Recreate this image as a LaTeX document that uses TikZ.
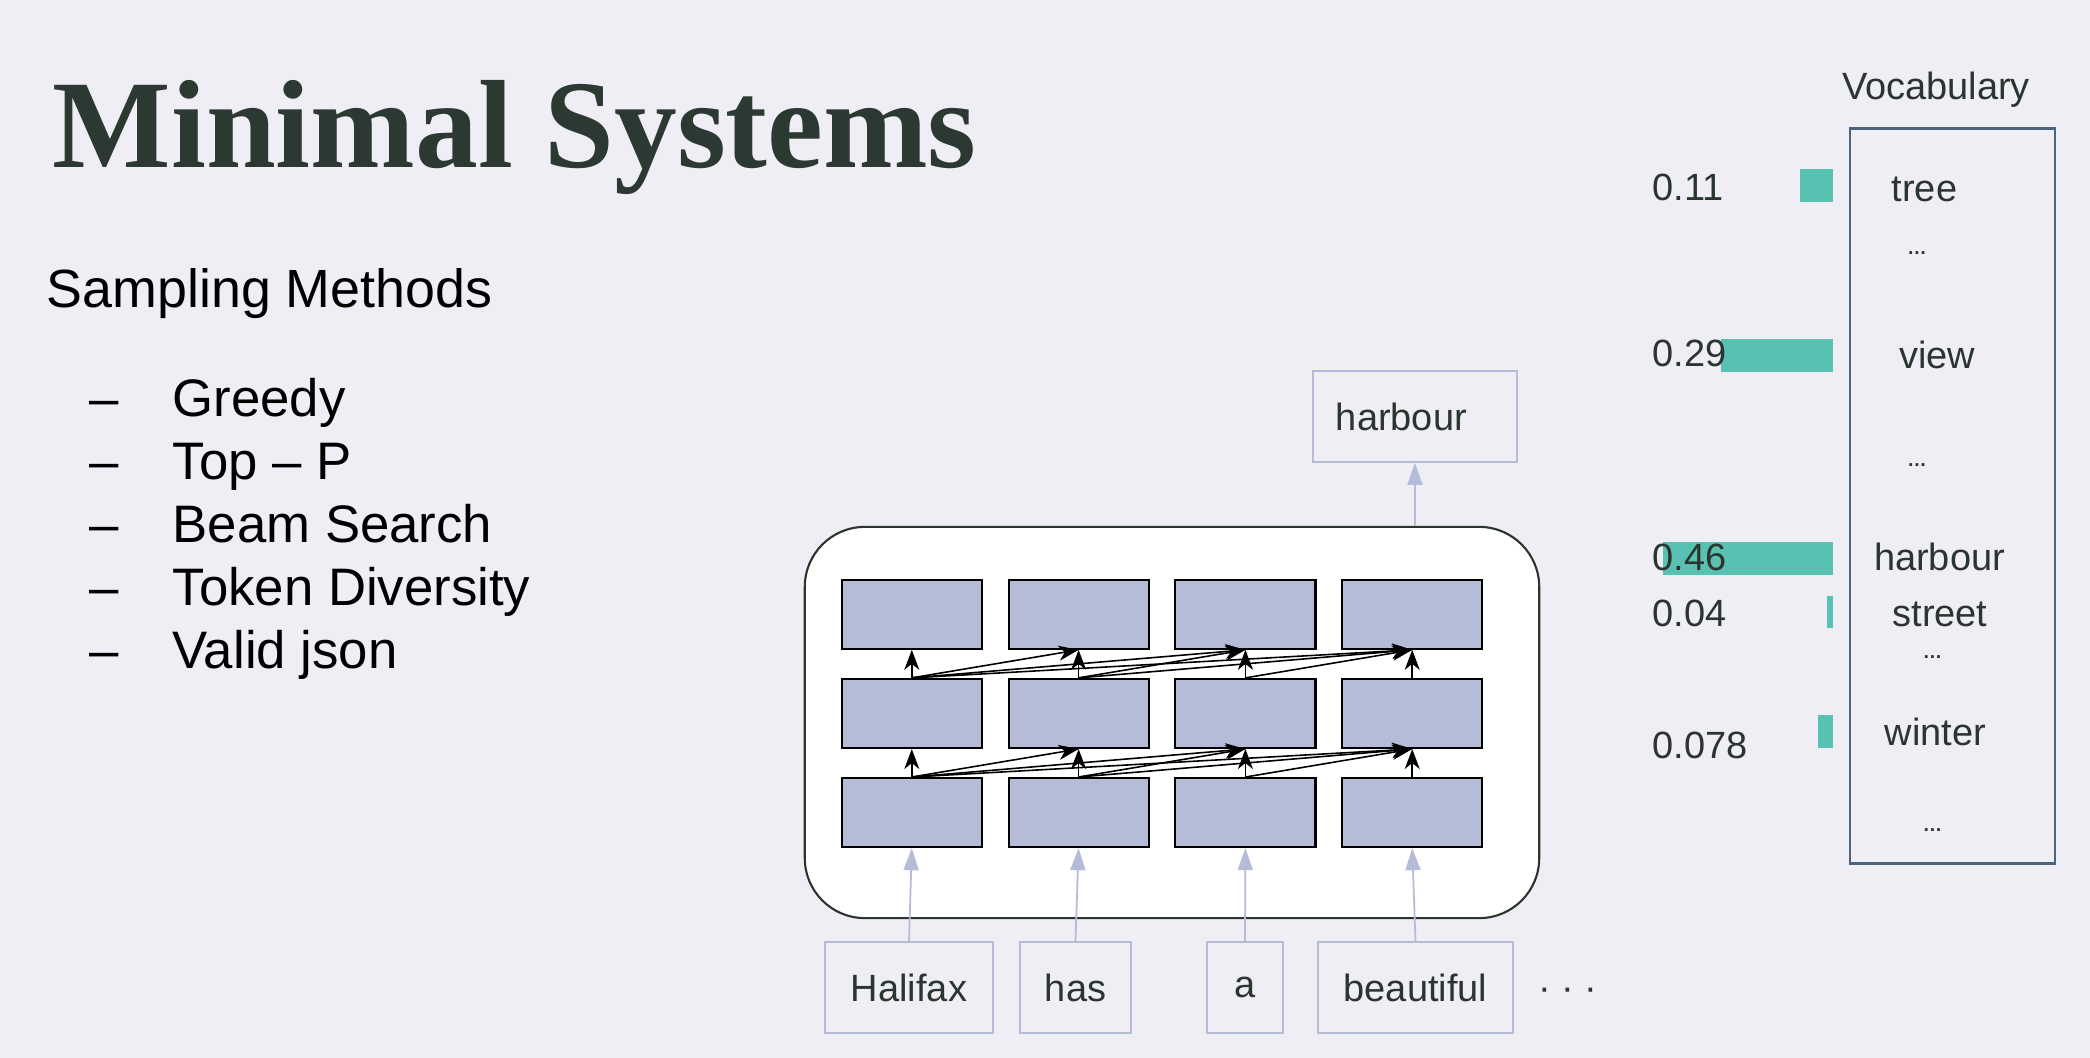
\documentclass[tikz,border=0pt]{standalone}
\usepackage{fontspec}
\setmainfont{Liberation Sans}
\newfontfamily\titlefont{Liberation Serif}
\usetikzlibrary{arrows.meta,positioning,matrix,fit,calc}

\definecolor{slidebg}{HTML}{EFEEF5}
\definecolor{inkdark}{HTML}{2B3530}
\definecolor{titlegreen}{HTML}{2C3832}
\definecolor{lavender}{HTML}{B4BCD8}
\definecolor{barteal}{HTML}{58C1B1}
\definecolor{vocabedge}{HTML}{4A6482}

\newcommand\diagfont{\fontsize{10.8}{13}\selectfont}
\newcommand\bodyfont{\fontsize{15}{18}\selectfont}

\begin{document}
\begin{tikzpicture}[
    x=0.01cm, y=-0.01cm,
    cell/.style={draw=black, fill=lavender, line width=0.6pt, minimum width=14mm, minimum height=6.9mm, inner sep=0pt},
    model/.style={draw=inkdark, fill=white, line width=0.6pt, rounded corners=6mm, minimum width=73.4mm, minimum height=39.1mm},
    token/.style={draw=lavender, line width=0.5pt, minimum height=9.1mm, inner sep=0pt, font=\diagfont, text=inkdark},
    word/.style={font=\diagfont, text=inkdark, inner sep=0pt, text height=7.7pt, text depth=0pt},
    gapdots/.style={font=\fontsize{5.5}{6}\selectfont\bfseries, text=inkdark, inner sep=0pt},
    listtext/.style={font=\bodyfont, text=black, inner sep=0pt, anchor=base west},
    attn/.style={-{Stealth[length=2mm,width=1.5mm,inset=0.6mm]}, line width=0.45pt, black},
    feed/.style={-{Triangle[length=2.2mm,width=1.5mm]}, line width=0.5pt, lavender}
  ]
    % Background
    \fill[slidebg] (0,0) rectangle (2090,1058);
    \useasboundingbox (0,0) rectangle (2090,1058);

    % Title and list
    \node[anchor=base west, inner sep=0pt, text=titlegreen, font=\titlefont\fontsize{35.7}{40}\selectfont\bfseries] (title) at (52,168) {Minimal Systems};
    \node[listtext, font=\fontsize{15.3}{18}\selectfont] (sampling) at (46,308) {Sampling Methods};
    \foreach \entry [count=\k] in {Greedy, Top – P, Beam Search, Token Diversity, Valid json} {
      \node[listtext] (dash\k) at (89,354+63*\k) {–};
      \node[listtext] (entry\k) at (172,354+63*\k) {\entry};
    }

    % Model
    \node[model] (model) at (1172,722.5) {};
    \matrix (net) [
      matrix of nodes,
      nodes={cell},
      nodes in empty cells,
      row sep=2.8mm,
      column sep=2.46mm,
      inner sep=0pt,
      anchor=north west
    ] at (840,578) {
      & & & \\
      & & & \\
      & & & \\
    };
    \foreach \c in {1,...,4} {
      \draw[attn] (net-3-\c.north) -- (net-2-\c.south);
      \draw[attn] (net-2-\c.north) -- (net-1-\c.south);
    }
    \foreach \i in {1,2,3} {
      \pgfmathtruncatemacro\nxt{\i+1}
      \foreach \j in {\nxt,...,4} {
        \draw[attn] (net-3-\i.north) -- (net-2-\j.south);
        \draw[attn] (net-2-\i.north) -- (net-1-\j.south);
      }
    }

    % Input tokens
    \node[token, minimum width=16.8mm] (tokHalifax) at (909,987.5) {Halifax};
    \node[token, minimum width=11.1mm] (tokHas) at (1075.5,987.5) {has};
    \node[token, minimum width=7.6mm] (tokA) at (1245,987.5) {a};
    \node[token, minimum width=19.5mm] (tokBeautiful) at (1415.5,987.5) {beautiful};
    \node[word] (tokMore) at (1568,987) {· · ·};
    \foreach \t [count=\c] in {tokHalifax,tokHas,tokA,tokBeautiful}
      \draw[feed] (\t.north) -- (net-3-\c.south);

    % Output token
    \node[token, inner xsep=2.3mm, text width=15.8mm, align=left] (outHarbour) at (1415,416.5) {harbour};
    \draw[feed] (model.north -| outHarbour.south) -- (outHarbour.south);

    % Vocabulary
    \node[word] (vocabLabel) at (1936,86) {Vocabulary};
    \node[draw=vocabedge, line width=0.6pt, minimum width=20.5mm, minimum height=73.45mm, inner sep=0pt] (vocabBox) at (1952.5,496) {};
    \foreach \w/\xc/\yc in {tree/1924.5/187.5, view/1937/355, harbour/1939.5/556.5, street/1940/612.5, winter/1935.5/731.5}
      \node[word] (v-\w) at (\xc,\yc) {\w};
    \foreach \xc/\yc [count=\k] in {1917/253, 1917/465, 1932.5/657, 1932.5/830}
      \node[gapdots] (vgap\k) at (\xc,\yc) {…};

    % Probabilities
    \foreach \xl/\yt/\yb in {1800/169/202, 1721/339/372, 1663/542/575, 1827/596/628, 1818/715/748}
      \fill[barteal] (\xl,\yt) rectangle (1833,\yb);
    \foreach \p/\yc [count=\k] in {0.11/186.5, 0.29/352.5, 0.46/557, 0.04/612.5, 0.078/744.5}
      \node[word, anchor=west] (prob\k) at (1652,\yc) {\p};
  \end{tikzpicture}
\end{document}
